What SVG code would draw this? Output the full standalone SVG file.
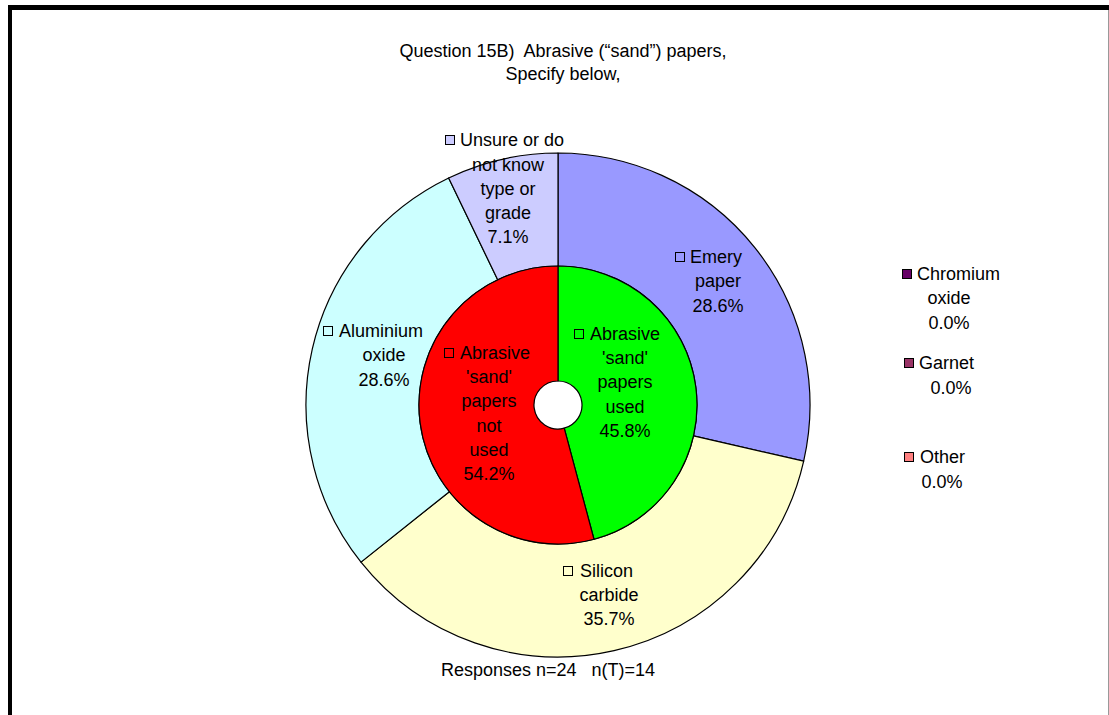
<svg xmlns="http://www.w3.org/2000/svg" width="1109" height="715" viewBox="0 0 1109 715">
<style>
text{font-family:"Liberation Sans",Arial,sans-serif;font-size:18px;fill:#000}
.m{text-anchor:middle}
.s{stroke:#000;stroke-width:1.2;stroke-linejoin:round}
.k{stroke:#000;stroke-width:1}
</style>
<rect width="1109" height="715" fill="#fff"/>
<g id="frame">
<line x1="8" y1="7.5" x2="1109" y2="7.5" stroke="#000" stroke-width="5"/>
<line x1="10" y1="5" x2="10" y2="715" stroke="#000" stroke-width="4"/>
<line x1="1108.5" y1="10" x2="1108.5" y2="715" stroke="#999" stroke-width="1"/>
</g>
<g id="title">
<text class="m" x="563" y="57" xml:space="preserve">Question 15B)  Abrasive (“sand”) papers,</text>
<text class="m" x="563" y="80">Specify below,</text>
</g>
<g id="outer-ring">
<path id="emery" class="s" fill="#9999FF" d="M558,153 A252,252 0 0 1 803.68,461.07 L693.52,435.93 A139,139 0 0 0 558,266 Z"/>
<path id="silicon" class="s" fill="#FFFFCC" d="M803.68,461.07 A252,252 0 0 1 360.98,562.12 L449.33,491.67 A139,139 0 0 0 693.52,435.93 Z"/>
<path id="aluminium" class="s" fill="#CCFFFF" d="M360.98,562.12 A252,252 0 0 1 448.66,177.96 L497.69,279.77 A139,139 0 0 0 449.33,491.67 Z"/>
<path id="unsure" class="s" fill="#CCCCFF" d="M448.66,177.96 A252,252 0 0 1 558,153 L558,266 A139,139 0 0 0 497.69,279.77 Z"/>
</g>
<g id="inner-ring">
<path id="used" class="s" fill="#00FF00" d="M558,266 A139,139 0 0 1 593.98,539.26 L564.21,428.18 A24,24 0 0 0 558,381 Z"/>
<path id="notused" class="s" fill="#FF0000" d="M593.98,539.26 A139,139 0 1 1 558,266 L558,381 A24,24 0 1 0 564.21,428.18 Z"/>
</g>
<g id="label-unsure">
<rect class="k" x="445.5" y="135.5" width="9" height="9" fill="#CCCCFF"/>
<text x="460" y="146">Unsure or do</text>
<text class="m" x="508" y="170.5">not know</text>
<text class="m" x="508" y="195">type or</text>
<text class="m" x="508" y="219">grade</text>
<text class="m" x="508" y="243">7.1%</text>
</g>
<g id="label-emery">
<rect class="k" x="675.5" y="252.5" width="9" height="9" fill="#9999FF"/>
<text x="690" y="263">Emery</text>
<text class="m" x="718" y="287">paper</text>
<text class="m" x="718" y="312">28.6%</text>
</g>
<g id="label-aluminium">
<rect class="k" x="323.5" y="326.5" width="9" height="9" fill="#CCFFFF"/>
<text x="339" y="337">Aluminium</text>
<text class="m" x="384" y="361">oxide</text>
<text class="m" x="384" y="386">28.6%</text>
</g>
<g id="label-notused">
<rect class="k" x="444.5" y="348.5" width="9" height="9" fill="#FF0000"/>
<text x="460" y="359">Abrasive</text>
<text class="m" x="489" y="383">'sand'</text>
<text class="m" x="489" y="407">papers</text>
<text class="m" x="489" y="432">not</text>
<text class="m" x="489" y="456">used</text>
<text class="m" x="489" y="480">54.2%</text>
</g>
<g id="label-used">
<rect class="k" x="574.5" y="329.5" width="9" height="9" fill="#00FF00"/>
<text x="590" y="340">Abrasive</text>
<text class="m" x="625" y="364">'sand'</text>
<text class="m" x="625" y="388">papers</text>
<text class="m" x="625" y="413">used</text>
<text class="m" x="625" y="437">45.8%</text>
</g>
<g id="label-silicon">
<rect class="k" x="563.5" y="566.5" width="9" height="9" fill="#FFFFCC"/>
<text x="580" y="577">Silicon</text>
<text class="m" x="609" y="601">carbide</text>
<text class="m" x="609" y="625">35.7%</text>
</g>
<g id="label-chromium">
<rect class="k" x="902.5" y="269.5" width="9" height="9" fill="#660066"/>
<text x="917" y="280">Chromium</text>
<text class="m" x="949" y="304">oxide</text>
<text class="m" x="949" y="329">0.0%</text>
</g>
<g id="label-garnet">
<rect class="k" x="904.5" y="358.5" width="9" height="9" fill="#993366"/>
<text x="919" y="369">Garnet</text>
<text class="m" x="951" y="394">0.0%</text>
</g>
<g id="label-other">
<rect class="k" x="904.5" y="452.5" width="9" height="9" fill="#FF8080"/>
<text x="920" y="463">Other</text>
<text class="m" x="942" y="488">0.0%</text>
</g>
<g id="footer">
<text class="m" x="548" y="676" xml:space="preserve">Responses n=24   n(T)=14</text>
</g>
</svg>
